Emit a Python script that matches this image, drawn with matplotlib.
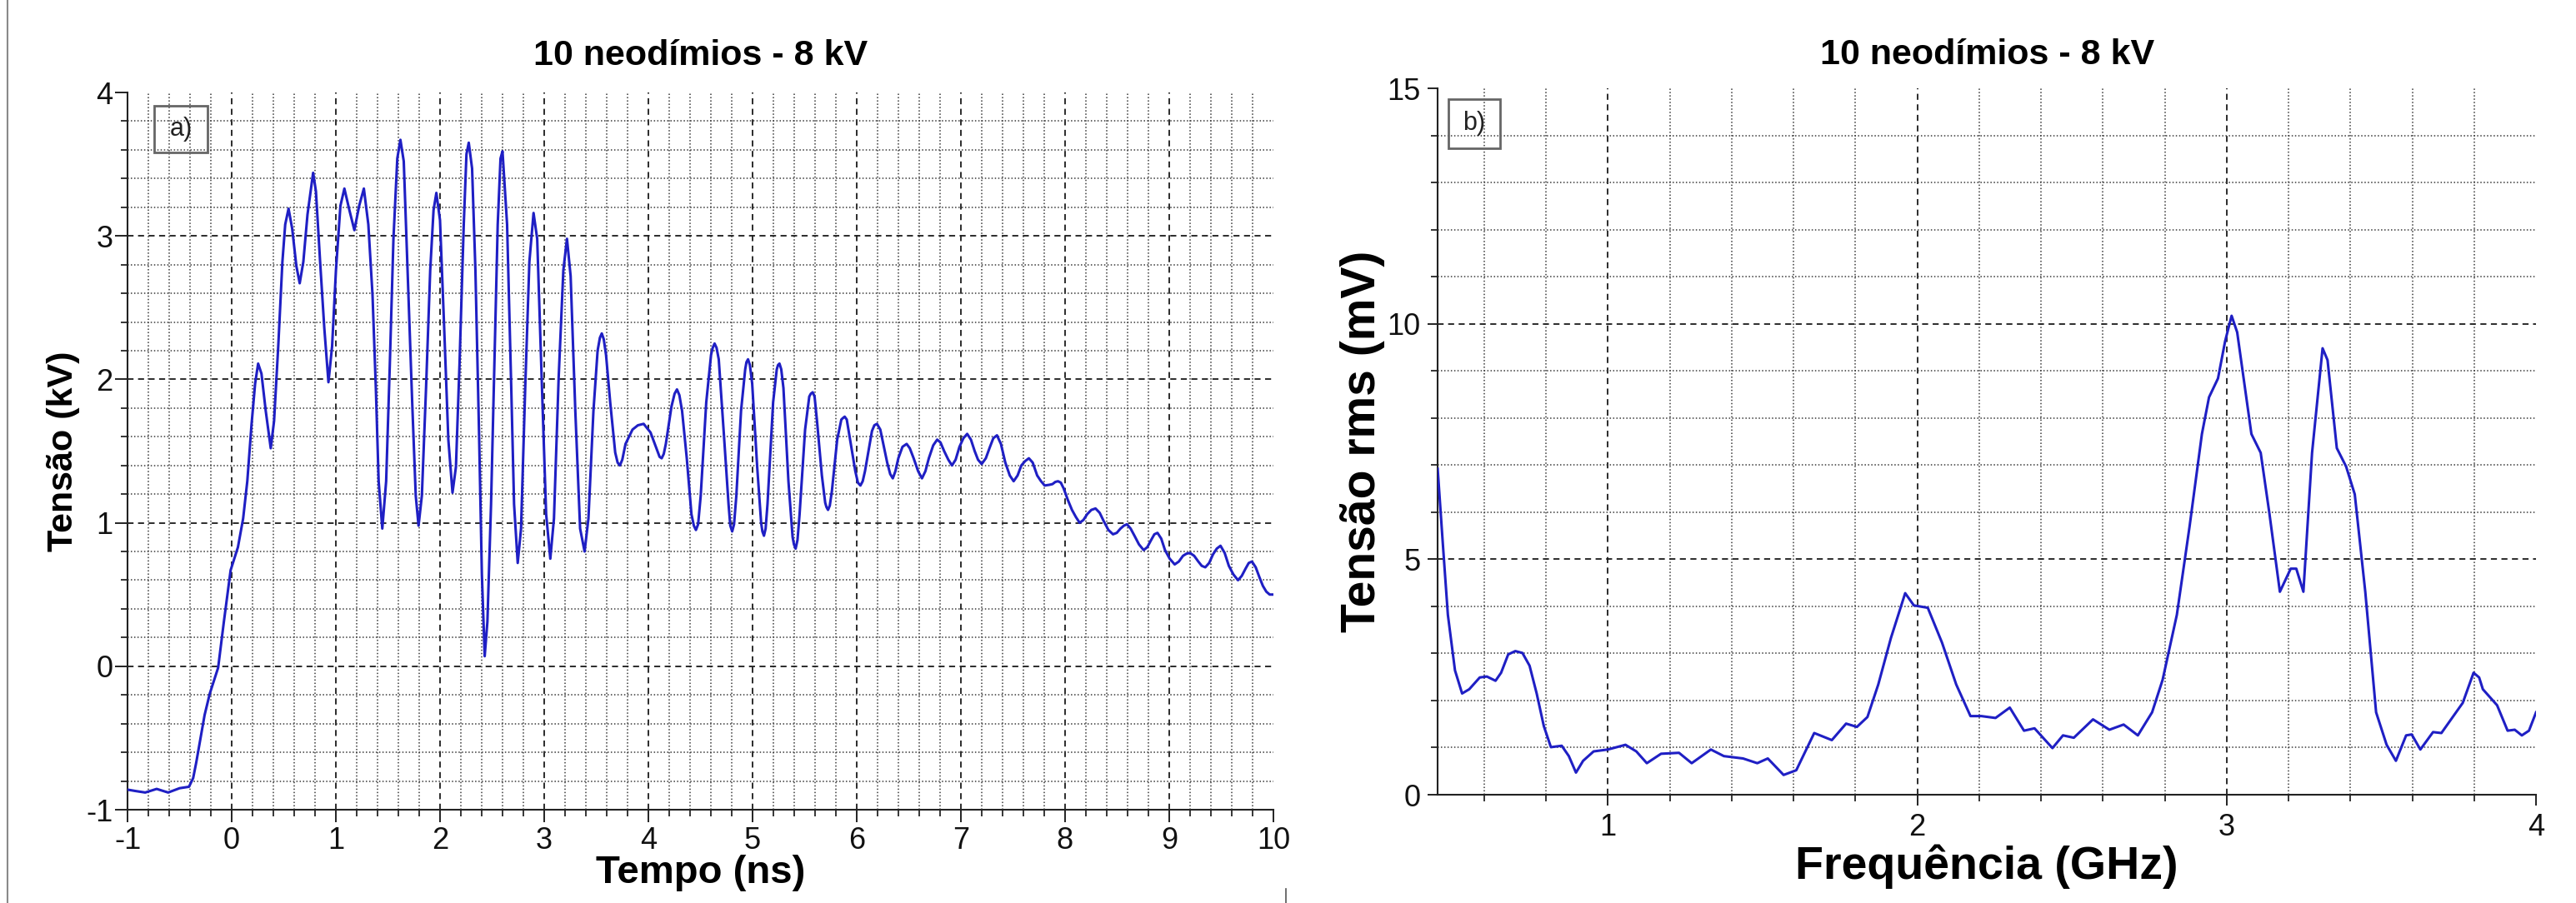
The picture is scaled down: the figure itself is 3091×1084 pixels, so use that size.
import matplotlib
matplotlib.use("Agg")
import matplotlib.pyplot as plt
from matplotlib.ticker import MultipleLocator, FixedLocator
from matplotlib.patches import Rectangle
from matplotlib.lines import Line2D

# ---------------- data ----------------
title_text = "10 neodímios - 8 kV"

# panel a: pulse rise
time_rise_ns = [-1.00, -0.92, -0.83, -0.72, -0.61, -0.50, -0.41, -0.37, -0.34, -0.26, -0.21,
                -0.13, -0.075, -0.01, 0.06, 0.11, 0.15, 0.19]
volt_rise_kv = [-0.86, -0.87, -0.88, -0.855, -0.88, -0.85, -0.84, -0.78, -0.67, -0.34, -0.19,
                -0.01, 0.31, 0.67, 0.83, 1.03, 1.29, 1.68]

# panel a: strong oscillations
time_fast_ns = [
    0.225, 0.254, 0.286, 0.327, 0.375, 0.407, 0.447, 0.487, 0.514, 0.546,
    0.581, 0.621, 0.653, 0.688, 0.728, 0.782, 0.809, 0.849, 0.889, 0.929, 0.964, 1.001, 1.044,
    1.082, 1.130, 1.178, 1.224, 1.269, 1.312, 1.352, 1.384, 1.411, 1.446, 1.483, 1.518, 1.553,
    1.590, 1.620, 1.652, 1.692, 1.733, 1.767, 1.794, 1.826, 1.866, 1.906, 1.938, 1.965, 2.000,
    2.040, 2.080, 2.120, 2.153, 2.187, 2.228, 2.254, 2.276, 2.308, 2.340, 2.375, 2.402, 2.429,
    2.455, 2.490, 2.522, 2.554, 2.581, 2.600, 2.644, 2.684, 2.711, 2.746, 2.778, 2.818, 2.858,
    2.898, 2.933, 2.979, 3.019, 3.059, 3.094, 3.139, 3.184, 3.219, 3.254, 3.299, 3.345, 3.388,
    3.425,
]
volt_fast_kv = [
    1.97, 2.11, 2.04, 1.78, 1.52, 1.71, 2.23, 2.82, 3.08, 3.19,
    3.05, 2.79, 2.67, 2.82, 3.15, 3.44, 3.31, 2.82, 2.36, 1.98, 2.23, 2.76, 3.21,
    3.33, 3.18, 3.04, 3.21, 3.33, 3.08, 2.59, 1.94, 1.29, 0.96, 1.29, 2.10, 2.98,
    3.54, 3.67, 3.52, 2.69, 1.84, 1.19, 0.98, 1.19, 1.94, 2.76, 3.18, 3.30, 3.11,
    2.36, 1.58, 1.21, 1.39, 2.10, 3.08, 3.57, 3.65, 3.47, 2.76, 1.62, 0.64, 0.07,
    0.31, 1.13, 2.10, 3.08, 3.54, 3.59, 3.08, 1.94, 1.13, 0.72, 0.96, 1.94, 2.82,
    3.16, 2.98, 1.94, 1.06, 0.75, 1.03, 2.01, 2.76, 2.98, 2.72, 1.78, 0.96, 0.80,
    1.03,
]

# panel a: decaying tail
time_tail_ns = [
    3.473, 3.513, 3.535, 3.553, 3.572, 3.594, 3.634, 3.682, 3.705, 3.727, 3.750, 3.781, 3.848,
    3.900, 3.955, 4.021, 4.088, 4.108, 4.128, 4.148, 4.168, 4.222, 4.252, 4.275, 4.298, 4.324,
    4.369, 4.414, 4.437, 4.457, 4.478, 4.503, 4.556, 4.602, 4.618, 4.636, 4.655, 4.676, 4.725,
    4.770, 4.787, 4.805, 4.823, 4.845, 4.890, 4.930, 4.942, 4.957, 4.975, 4.997, 5.045, 5.083,
    5.095, 5.110, 5.126, 5.144, 5.198, 5.233, 5.245, 5.259, 5.276, 5.297, 5.345, 5.385, 5.398,
    5.414, 5.432, 5.452, 5.505, 5.545, 5.560, 5.578, 5.596, 5.618, 5.666, 5.698, 5.710, 5.725,
    5.742, 5.762, 5.813, 5.853, 5.868, 5.885, 5.905, 5.928, 5.987, 6.012, 6.036, 6.058, 6.080,
    6.147, 6.170, 6.195, 6.227, 6.293, 6.322, 6.347, 6.372, 6.400, 6.440, 6.480, 6.510, 6.547,
    6.590, 6.627, 6.660, 6.693, 6.735, 6.773, 6.805, 6.840, 6.880, 6.915, 6.950, 6.987, 7.025,
    7.061, 7.097, 7.133, 7.165, 7.200, 7.240, 7.280, 7.312, 7.347, 7.385, 7.427, 7.470, 7.507,
    7.545, 7.581, 7.617, 7.653, 7.690, 7.733, 7.770, 7.805, 7.850, 7.880, 7.907, 7.933, 7.960,
    7.987, 8.027, 8.067, 8.105, 8.141, 8.177, 8.213, 8.253, 8.293, 8.333, 8.373, 8.417, 8.461,
    8.497, 8.533, 8.565, 8.595, 8.630, 8.667, 8.710, 8.755, 8.790, 8.827, 8.858, 8.888, 8.924,
    8.960, 9.005, 9.053, 9.093, 9.133, 9.167, 9.200, 9.240, 9.280, 9.313, 9.347, 9.384, 9.421,
    9.457, 9.493, 9.533, 9.573, 9.617, 9.661, 9.697, 9.733, 9.764, 9.795, 9.831, 9.867, 9.900,
    9.933, 9.965, 10.0,
]
volt_tail_kv = [
    1.78, 2.20, 2.29, 2.32, 2.28, 2.17, 1.84, 1.49, 1.42, 1.40, 1.44, 1.55, 1.65,
    1.68, 1.69, 1.63, 1.50, 1.46, 1.45, 1.48, 1.55, 1.81, 1.90, 1.93, 1.89, 1.78,
    1.45, 1.06, 0.98, 0.95, 0.99, 1.19, 1.84, 2.17, 2.22, 2.25, 2.22, 2.14, 1.62,
    1.13, 0.98, 0.94, 0.99, 1.19, 1.78, 2.07, 2.12, 2.14, 2.10, 1.97, 1.39, 1.00,
    0.94, 0.91, 0.96, 1.13, 1.84, 2.07, 2.10, 2.11, 2.07, 1.94, 1.29, 0.90, 0.85,
    0.82, 0.88, 1.06, 1.65, 1.88, 1.90, 1.91, 1.88, 1.72, 1.33, 1.14, 1.11, 1.09,
    1.12, 1.22, 1.58, 1.72, 1.73, 1.74, 1.72, 1.62, 1.36, 1.28, 1.26, 1.29, 1.36,
    1.64, 1.68, 1.69, 1.65, 1.42, 1.34, 1.31, 1.36, 1.45, 1.53, 1.55, 1.52, 1.45,
    1.36, 1.31, 1.36, 1.45, 1.54, 1.58, 1.56, 1.50, 1.44, 1.40, 1.44, 1.53, 1.59,
    1.62, 1.58, 1.50, 1.44, 1.41, 1.45, 1.53, 1.59, 1.61, 1.55, 1.42, 1.33, 1.29,
    1.33, 1.40, 1.43, 1.45, 1.42, 1.33, 1.29, 1.26, 1.265, 1.27, 1.285, 1.29, 1.28,
    1.24, 1.16, 1.09, 1.04, 1.00, 1.02, 1.06, 1.09, 1.10, 1.07, 1.01, 0.95, 0.92,
    0.93, 0.96, 0.98, 0.99, 0.96, 0.91, 0.85, 0.81, 0.83, 0.88, 0.92, 0.93, 0.89,
    0.81, 0.75, 0.71, 0.73, 0.77, 0.785, 0.79, 0.77, 0.73, 0.70, 0.69, 0.72, 0.78,
    0.82, 0.84, 0.79, 0.70, 0.64, 0.60, 0.63, 0.68, 0.72, 0.73, 0.69, 0.62, 0.56,
    0.52, 0.50, 0.50,
]

# panel b: spectrum
freq_ghz = [
    0.45, 0.467, 0.483, 0.506, 0.529, 0.552, 0.586, 0.609, 0.637, 0.655, 0.678, 0.701, 0.724,
    0.747, 0.770, 0.793, 0.816, 0.851, 0.874, 0.897, 0.920, 0.954, 1.000, 1.057, 1.092, 1.126,
    1.172, 1.230, 1.271, 1.333, 1.375, 1.437, 1.483, 1.517, 1.568, 1.609, 1.667, 1.724, 1.770,
    1.805, 1.839, 1.874, 1.915, 1.961, 1.989, 2.034, 2.080, 2.126, 2.172, 2.207, 2.253, 2.299,
    2.345, 2.379, 2.437, 2.471, 2.506, 2.568, 2.621, 2.667, 2.713, 2.759, 2.793, 2.839, 2.880,
    2.920, 2.943, 2.972, 2.995, 3.016, 3.034, 3.057, 3.080, 3.110, 3.138, 3.172, 3.207, 3.225,
    3.248, 3.276, 3.310, 3.326, 3.356, 3.386, 3.414, 3.448, 3.483, 3.517, 3.547, 3.580, 3.598,
    3.626, 3.667, 3.694, 3.736, 3.763, 3.798, 3.816, 3.828, 3.874, 3.908, 3.931, 3.954, 3.977,
    4.000,
]
vrms_mv = [
    6.92, 5.30, 3.82, 2.64, 2.15, 2.24, 2.49, 2.51, 2.42, 2.59, 2.98, 3.05, 3.01,
    2.74, 2.15, 1.46, 1.01, 1.04, 0.82, 0.47, 0.72, 0.92, 0.96, 1.06, 0.92, 0.67,
    0.87, 0.89, 0.67, 0.96, 0.82, 0.77, 0.67, 0.77, 0.42, 0.52, 1.31, 1.16, 1.51,
    1.44, 1.65, 2.34, 3.33, 4.28, 4.02, 3.97, 3.23, 2.34, 1.67, 1.67, 1.63, 1.85,
    1.36, 1.41, 0.99, 1.26, 1.21, 1.60, 1.38, 1.49, 1.26, 1.75, 2.44, 3.82, 5.69,
    7.66, 8.44, 8.84, 9.63, 10.17, 9.82, 8.74, 7.66, 7.26, 5.98, 4.31, 4.80, 4.80,
    4.31, 7.26, 9.48, 9.23, 7.36, 6.97, 6.38, 4.31, 1.75, 1.06, 0.72, 1.26, 1.28,
    0.96, 1.33, 1.31, 1.70, 1.95, 2.59, 2.49, 2.24, 1.90, 1.36, 1.38, 1.26, 1.36,
    1.75,
]

a_xticks = [-1, 0, 1, 2, 3, 4, 5, 6, 7, 8, 9, 10]
a_yticks = [-1, 0, 1, 2, 3, 4]
b_xticks = [1, 2, 3, 4]
b_yticks = [0, 5, 10, 15]

time_ns = time_rise_ns + time_fast_ns + time_tail_ns
voltage_kv = volt_rise_kv + volt_fast_kv + volt_tail_kv

# ---------------- style ----------------
plt.rcParams["font.family"] = ["Liberation Sans", "DejaVu Sans"]
plt.rcParams["axes.unicode_minus"] = False
LABEL_FONT = ["Liberation Sans", "DejaVu Sans"]
LINE_COLOR = "#1f1fc4"

fig = plt.figure(figsize=(30.91, 10.84), dpi=100)
axA = fig.add_axes([0.0495, 0.1033, 0.4448, 0.7943])
axB = fig.add_axes([0.5581, 0.1199, 0.4264, 0.7823])


def style(ax, xlim, ylim, xticks, yticks, xminor, yminor, majlen, minlen, xpad, ypad):
    ax.set_xlim(*xlim)
    ax.set_ylim(*ylim)
    ax.xaxis.set_major_locator(FixedLocator(xticks))
    ax.yaxis.set_major_locator(FixedLocator(yticks))
    ax.xaxis.set_minor_locator(MultipleLocator(xminor))
    ax.yaxis.set_minor_locator(MultipleLocator(yminor))
    ax.set_axisbelow(True)
    ax.grid(which="major", color="#1a1a1a", linestyle=(0, (4, 3)), linewidth=1.3)
    ax.grid(which="minor", color="#3a3a3a", linestyle=(0, (1, 1.6)), linewidth=1.1)
    for s in ("top", "right"):
        ax.spines[s].set_visible(False)
    for s in ("left", "bottom"):
        ax.spines[s].set_linewidth(1.5)
        ax.spines[s].set_color("#222222")
    ax.tick_params(which="major", length=majlen, width=1.3, direction="out",
                   labelsize=26, colors="#111111")
    ax.tick_params(which="minor", length=minlen, width=1.1, direction="out")
    ax.tick_params(axis="x", which="major", pad=xpad)
    ax.tick_params(axis="y", which="major", pad=ypad)
    # no grid line on the far edges (top / right)
    ax.xaxis.get_major_ticks()[-1].gridline.set_visible(False)
    ax.yaxis.get_major_ticks()[-1].gridline.set_visible(False)


# ---------------- panel a ----------------
axA.plot(time_ns, voltage_kv, color=LINE_COLOR, linewidth=2.2, solid_joinstyle="round", zorder=3)
style(axA, (-1, 10), (-1, 4), a_xticks, a_yticks, 0.2, 0.2, 10.5, 5.5, 4, 2)
axA.set_title(title_text, fontsize=31, fontweight="bold", family=LABEL_FONT, pad=24)
axA.set_xlabel("Tempo (ns)", fontsize=34, fontweight="bold", family=LABEL_FONT)
axA.set_ylabel("Tensão (kV)", fontsize=31, fontweight="bold", family=LABEL_FONT)
axA.xaxis.set_label_coords(0.5, -0.063)
axA.yaxis.set_label_coords(-0.0415, 0.5)
axA.add_patch(Rectangle((0.0233, 0.916), 0.0465, 0.065, transform=axA.transAxes,
                        fill=False, edgecolor="#666666", linewidth=2, zorder=5))
axA.text(0.0465, 0.9485, "a)", transform=axA.transAxes, ha="center", va="center",
         fontsize=22, color="#222222", zorder=6)

# ---------------- panel b ----------------
axB.plot(freq_ghz, vrms_mv, color=LINE_COLOR, linewidth=2.2, solid_joinstyle="round", zorder=3)
style(axB, (0.45, 4), (0, 15), b_xticks, b_yticks, 0.2, 1, 9, 6, 7, 6)
axB.set_title(title_text, fontsize=31, fontweight="bold", family=LABEL_FONT, pad=21)
axB.set_xlabel("Frequência (GHz)", fontsize=40, fontweight="bold", family=LABEL_FONT)
axB.set_ylabel("Tensão rms (mV)", fontsize=41, fontweight="bold", family=LABEL_FONT)
axB.xaxis.set_label_coords(0.5, -0.0696)
axB.yaxis.set_label_coords(-0.0478, 0.5)
axB.add_patch(Rectangle((0.0099, 0.915), 0.047, 0.07, transform=axB.transAxes,
                        fill=False, edgecolor="#666666", linewidth=2, zorder=5))
axB.text(0.0334, 0.95, "b)", transform=axB.transAxes, ha="center", va="center",
         fontsize=22, color="#222222", zorder=6)

# thin frame line at the very left of the picture and a small mark near the bottom
fig.add_artist(Line2D([0.003, 0.003], [0.0, 1.0], transform=fig.transFigure,
                      color="#8a8a8a", linewidth=1.5))
fig.add_artist(Line2D([0.4993, 0.4993], [0.0, 0.016], transform=fig.transFigure,
                      color="#555555", linewidth=1.2))

fig.savefig("out.png", dpi=100, facecolor="white")
